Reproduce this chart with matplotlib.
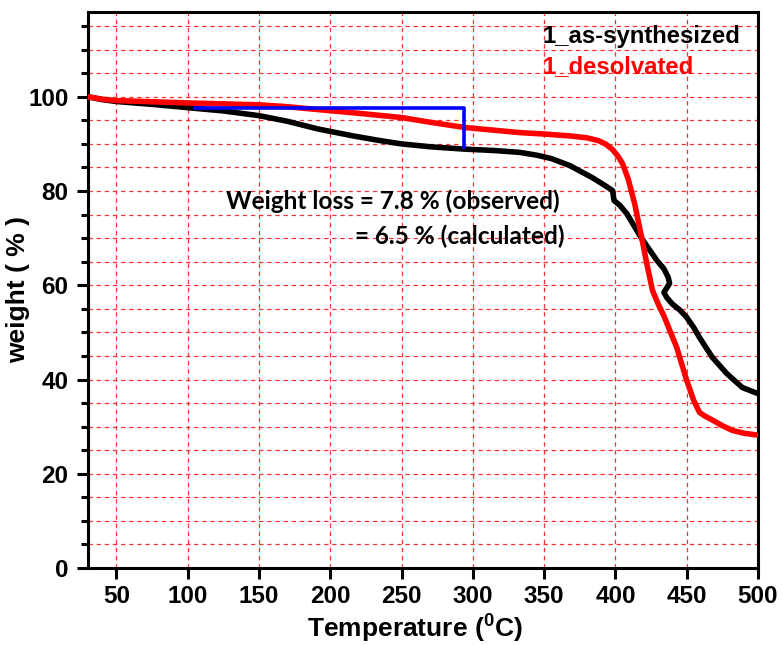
import matplotlib
matplotlib.use("Agg")
import matplotlib.pyplot as plt
from matplotlib.ticker import MultipleLocator

# TGA data
temp_as = [30, 40, 50, 75, 100, 125, 150, 170, 191, 216, 235, 250, 270, 294, 315,
           333, 345, 355, 368, 384, 392, 398, 399, 403, 408, 418, 429, 434, 437,
           438, 434, 436, 440, 445, 450, 455, 459, 468, 478, 489, 500]
weight_as = [100, 99.4, 99.0, 98.4, 97.7, 97.0, 96.0, 94.8, 93.2, 91.7, 90.7, 90.0,
             89.4, 88.9, 88.6, 88.2, 87.6, 86.9, 85.4, 82.8, 81.3, 80.1, 78.0, 77.0,
             75.2, 70.1, 65.3, 63.5, 61.7, 60.4, 58.5, 57.4, 56.0, 54.8, 53.2, 51.0,
             48.9, 44.7, 41.3, 38.3, 37.0]

temp_des = [30, 40, 50, 100, 150, 170, 191, 220, 250, 270, 294, 333, 350, 368, 380,
            388, 393, 398, 402, 405, 409, 413.5, 418.4, 422, 426, 430, 434, 443,
            450, 455, 459, 463, 468, 475, 482, 490, 500]
weight_des = [100, 99.5, 99.2, 98.7, 98.3, 97.9, 97.3, 96.5, 95.6, 94.6, 93.5, 92.4,
              92.1, 91.7, 91.3, 90.7, 90.0, 88.8, 87.3, 85.8, 82.5, 77.3, 70.1, 64.6,
              58.9, 56.0, 53.5, 46.8, 39.8, 35.5, 33.0, 32.2, 31.4, 30.2, 29.2, 28.6,
              28.2]

# weight-loss bracket
step_t = [105, 294, 294]
step_w = [97.6, 97.6, 89.3]

plt.rcParams['font.family'] = ['Liberation Sans', 'DejaVu Sans']
plt.rcParams['font.weight'] = 'bold'
plt.rcParams['mathtext.fontset'] = 'custom'
plt.rcParams['mathtext.default'] = 'bf'
plt.rcParams['mathtext.bf'] = 'Liberation Sans:bold'
plt.rcParams['mathtext.rm'] = 'Liberation Sans:bold'

fig = plt.figure(figsize=(7.82, 6.45), dpi=100)
ax = fig.add_axes([0.1125, 0.1194, 0.8568, 0.862])

ax.plot(temp_as, weight_as, color='black', lw=4, solid_capstyle='round',
        solid_joinstyle='round', zorder=3)
ax.plot(temp_des, weight_des, color='#ff0000', lw=4, solid_capstyle='round',
        solid_joinstyle='round', zorder=3)
ax.plot(step_t, step_w, color='#0000ff', lw=2.6, zorder=4)

ax.set_xlim(30, 500)
ax.set_ylim(0, 118)
ax.xaxis.set_major_locator(MultipleLocator(50))
ax.yaxis.set_major_locator(MultipleLocator(20))
ax.yaxis.set_minor_locator(MultipleLocator(5))

ax.grid(True, which='major', axis='x', color='#ff3030', ls=(0, (3.5, 3)), lw=0.9)
ax.grid(True, which='both', axis='y', color='#ff3030', ls=(0, (3.5, 3)), lw=0.9)
ax.set_axisbelow(True)

for s in ax.spines.values():
    s.set_linewidth(2.2)
ax.tick_params(axis='both', which='major', direction='out', length=8, width=2.2,
               labelsize=17.5)
ax.tick_params(axis='x', which='major', pad=4)
ax.tick_params(axis='y', which='major', pad=6)
ax.tick_params(axis='y', which='minor', direction='out', length=5, width=2.2)
for lab in ax.get_xticklabels() + ax.get_yticklabels():
    lab.set_fontweight('bold')

ax.set_xlabel(r'Temperature ($^{0}$C)', fontsize=19, fontweight='bold')
ax.xaxis.set_label_coords(0.488, -0.08)
ax.set_ylabel('weight ( % )', fontsize=19, fontweight='bold')
ax.yaxis.set_label_coords(-0.087, 0.5)

ax.text(349, 112.9, '1_as-synthesized', color='black', fontsize=17.2,
        fontweight='bold', ha='left', va='center')
ax.text(349, 106.4, '1_desolvated', color='#ff0000', fontsize=17.2,
        fontweight='bold', ha='left', va='center')

ax.text(127, 77.8, 'Weight loss = 7.8 % (observed)', fontsize=17.6, fontweight='bold',
        family=['Lato', 'DejaVu Sans'], ha='left', va='center')
ax.text(217, 70.5, '= 6.5 % (calculated)', fontsize=17.6, fontweight='bold',
        family=['Lato', 'DejaVu Sans'], ha='left', va='center')

fig.savefig('out.png', dpi=100)
